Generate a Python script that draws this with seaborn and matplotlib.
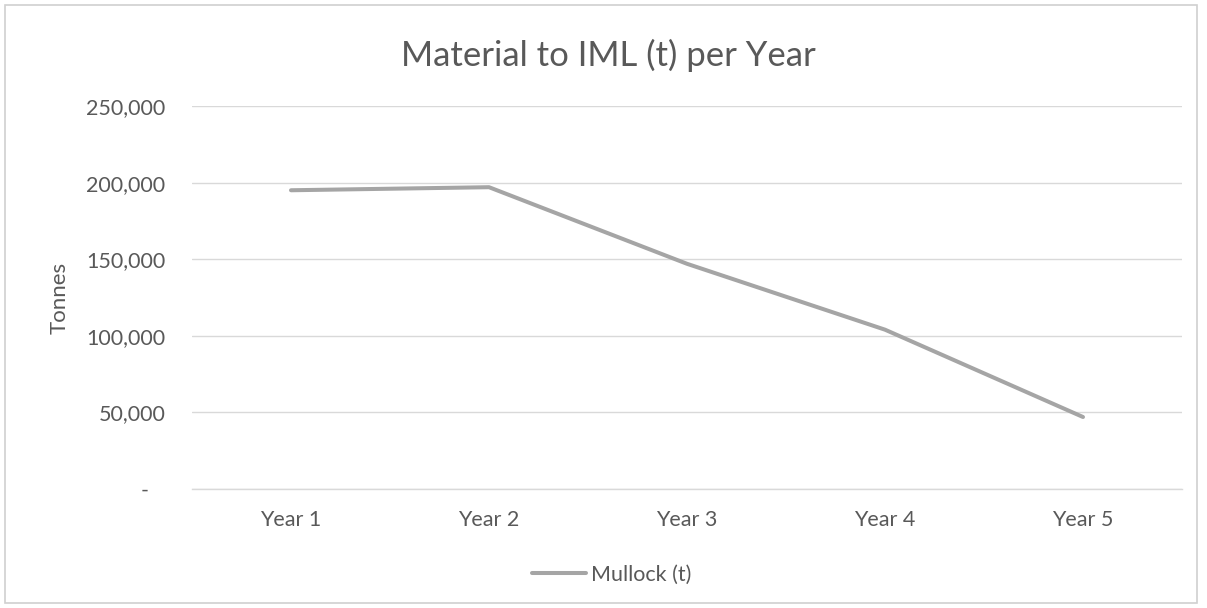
import matplotlib
matplotlib.use("Agg")
import matplotlib.pyplot as plt
import matplotlib.ticker as mticker
from matplotlib.patches import Rectangle
import pandas as pd
import seaborn as sns

years = ["Year 1", "Year 2", "Year 3", "Year 4", "Year 5"]
mullock = [195000, 197000, 147000, 104000, 47000]
series_name = "Mullock (t)"
title = "Material to IML (t) per Year"
y_label = "Tonnes"
y_ticks = [0, 50000, 100000, 150000, 200000, 250000]

df = pd.DataFrame({"Year": years, "Tonnes": mullock, "Series": series_name})

sns.set_theme(style="white")
plt.rcParams["font.family"] = ["Lato", "DejaVu Sans"]

text_color = "#595959"
line_color = "#a5a5a5"
grid_color = "#d9d9d9"

fig = plt.figure(figsize=(12.07, 6.08), dpi=100)
fig.patch.set_facecolor("white")
ax = fig.add_axes([192 / 1207, 1 - 489 / 608, (1182 - 192) / 1207, (489 - 106) / 608])

sns.lineplot(data=df, x="Year", y="Tonnes", hue="Series", palette=[line_color],
             linewidth=2.9, sort=False, ax=ax, legend=False)

ax.set_xlim(-0.5, len(years) - 0.5)
ax.set_ylim(0, 250000)
ax.set_yticks(y_ticks)
ax.yaxis.set_major_formatter(mticker.FuncFormatter(
    lambda v, _: "-   " if v == 0 else f"{v:,.0f}"))
ax.yaxis.grid(True, color=grid_color, linewidth=1)
ax.set_axisbelow(True)
for side in ["top", "right", "left"]:
    ax.spines[side].set_visible(False)
ax.spines["bottom"].set_color(grid_color)
ax.spines["bottom"].set_linewidth(1)
ax.tick_params(axis="both", length=0, labelsize=15.5, colors=text_color)
ax.tick_params(axis="y", pad=19)
ax.tick_params(axis="x", pad=15)
ax.set_xlabel("")
ax.set_ylabel("")
fig.text(60 / 1207, 1 - 298 / 608, y_label, rotation=90, ha="center", va="center",
         fontsize=16, color=text_color)
fig.text(608 / 1207, 1 - 55 / 608, title, ha="center", va="center",
         fontsize=25, color=text_color)

handle = plt.Line2D([], [], color=line_color, linewidth=2.9)
fig.legend([handle], [series_name], loc="center", bbox_to_anchor=(612 / 1207, 1 - 575 / 608),
           frameon=False, fontsize=15.5, labelcolor=text_color, handlelength=2.5,
           handletextpad=0.25)

fig.add_artist(Rectangle((5 / 1207, 5 / 608), 1192 / 1207, 598 / 608,
                         transform=fig.transFigure, fill=False,
                         edgecolor="#d0d0d0", linewidth=1.2))

fig.savefig("out.png", dpi=100, facecolor="white")
